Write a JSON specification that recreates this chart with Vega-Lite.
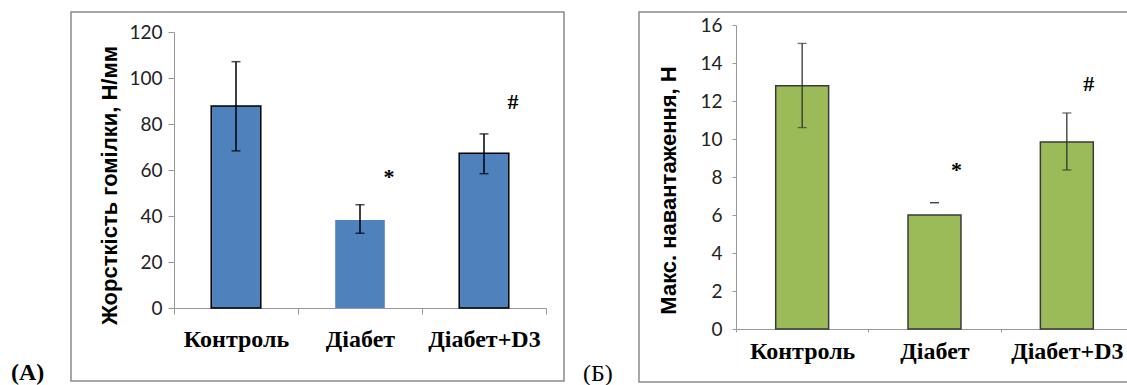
{
  "$schema": "https://vega.github.io/schema/vega-lite/v6.json",
  "autosize": {"type": "pad"},
  "padding": {"left": 10, "top": 11, "right": -3, "bottom": 0},
  "background": "white",
  "bounds": "flush",
  "spacing": 75,
  "config": {
    "view": {"stroke": "#8a8a8a", "strokeWidth": 1.5},
    "axis": {"grid": false},
    "axisX": {"labelFont": "Liberation Serif"}
  },
  "datasets": {
    "a": [
      {"group": "Контроль", "mean": 87.8, "lo": 68.3, "hi": 107.1, "sig": "", "sig_y": null},
      {"group": "Діабет", "mean": 38.3, "lo": 32.5, "hi": 44.9, "sig": "*", "sig_y": 53.7},
      {"group": "Діабет+D3", "mean": 67.3, "lo": 58.4, "hi": 75.7, "sig": "#", "sig_y": 86.7}
    ],
    "b": [
      {"group": "Контроль", "mean": 12.8, "lo": 10.6, "hi": 15.03, "sig": "", "sig_y": null},
      {"group": "Діабет", "mean": 6.0, "lo": 6.65, "hi": 6.65, "sig": "*", "sig_y": 8.0},
      {"group": "Діабет+D3", "mean": 9.84, "lo": 8.37, "hi": 11.37, "sig": "#", "sig_y": 12.54}
    ]
  },
  "hconcat": [
    {
      "width": 493,
      "height": 369,
      "title": {"text": "(A)", "orient": "bottom", "anchor": "start", "font": "Liberation Serif", "fontWeight": "bold", "fontSize": 24, "color": "black", "dx": -60, "offset": -20},
      "data": {"name": "a"},
      "encoding": {
        "x": {
          "field": "group", "type": "nominal", "sort": null,
          "scale": {"range": [103, 475], "paddingInner": 0, "paddingOuter": 0},
          "axis": {
            "title": null, "orient": "bottom", "offset": -73, "labelAngle": 0,
            "tickBand": "extent", "tickSize": 6, "tickColor": "#999", "domainColor": "#999",
            "labelFont": "Liberation Serif", "labelFontWeight": "bold", "labelFontSize": 24, "labelColor": "black", "labelPadding": 13
          }
        }
      },
      "layer": [
        {
          "mark": {"type": "bar", "width": {"band": 0.4}, "color": "#4F81BD", "strokeWidth": 1.5},
          "encoding": {
            "y": {
              "field": "mean", "type": "quantitative",
              "scale": {"domain": [0, 120], "range": [296, 20], "nice": false, "zero": true},
              "axis": {
                "title": "Жорсткість гомілки, Н/мм", "offset": -103, "values": [0, 20, 40, 60, 80, 100, 120],
                "tickSize": 6, "tickColor": "#999", "domainColor": "#999",
                "labelFont": "Lato", "labelFontSize": 19, "labelColor": "#222", "labelPadding": 6,
                "titleFont": "Liberation Sans", "titleFontWeight": "bold", "titleFontSize": 22, "titleColor": "black",
                "titlePadding": 7, "titleY": 173
              }
            },
            "stroke": {"condition": {"test": "datum.group === 'Діабет'", "value": null}, "value": "black"}
          }
        },
        {
          "mark": {"type": "rule", "color": "black", "strokeWidth": 1.5},
          "encoding": {"y": {"field": "lo", "type": "quantitative"}, "y2": {"field": "hi"}}
        },
        {
          "mark": {"type": "tick", "orient": "horizontal", "size": 9, "thickness": 1.5, "color": "black"},
          "encoding": {"y": {"field": "hi", "type": "quantitative"}}
        },
        {
          "mark": {"type": "tick", "orient": "horizontal", "size": 9, "thickness": 1.5, "color": "black"},
          "encoding": {"y": {"field": "lo", "type": "quantitative"}}
        },
        {
          "transform": [{"filter": "datum.sig !== ''"}],
          "mark": {"type": "text", "font": "Liberation Serif", "fontWeight": "bold", "fontSize": 22, "color": "black", "baseline": "alphabetic", "align": "center", "dx": 29},
          "encoding": {"y": {"field": "sig_y", "type": "quantitative"}, "text": {"field": "sig"}}
        }
      ]
    },
    {
      "width": 492,
      "height": 370,
      "title": {"text": "(Б)", "orient": "bottom", "anchor": "start", "font": "Liberation Serif", "fontWeight": "normal", "fontSize": 24, "color": "black", "dx": -56, "offset": -20},
      "data": {"name": "b"},
      "encoding": {
        "x": {
          "field": "group", "type": "nominal", "sort": null,
          "scale": {"range": [97, 494], "paddingInner": 0, "paddingOuter": 0},
          "axis": {
            "title": null, "orient": "bottom", "offset": -53, "labelAngle": 0,
            "tickBand": "extent", "tickSize": 3, "tickColor": "#999", "domainColor": "#999",
            "labelFont": "Liberation Serif", "labelFontWeight": "bold", "labelFontSize": 24, "labelColor": "black", "labelPadding": 7
          }
        }
      },
      "layer": [
        {
          "mark": {"type": "bar", "width": {"band": 0.4}, "color": "#9BBB59", "stroke": "#3a3a3a", "strokeWidth": 1.5},
          "encoding": {
            "y": {
              "field": "mean", "type": "quantitative",
              "scale": {"domain": [0, 16], "range": [317, 13], "nice": false, "zero": true},
              "axis": {
                "title": "Макс. навантаження, Н", "offset": -97, "values": [0, 2, 4, 6, 8, 10, 12, 14, 16],
                "tickSize": 4, "tickColor": "#999", "domainColor": "#999",
                "labelFont": "Lato", "labelFontSize": 19, "labelColor": "#222", "labelPadding": 10,
                "titleFont": "Liberation Sans", "titleFontWeight": "bold", "titleFontSize": 22, "titleColor": "black",
                "titlePadding": 19, "titleY": 178
              }
            }
          }
        },
        {
          "mark": {"type": "rule", "color": "#333", "strokeWidth": 1.3},
          "encoding": {"y": {"field": "lo", "type": "quantitative"}, "y2": {"field": "hi"}}
        },
        {
          "mark": {"type": "tick", "orient": "horizontal", "size": 9, "thickness": 1.3, "color": "#333"},
          "encoding": {"y": {"field": "hi", "type": "quantitative"}}
        },
        {
          "mark": {"type": "tick", "orient": "horizontal", "size": 9, "thickness": 1.3, "color": "#333"},
          "encoding": {"y": {"field": "lo", "type": "quantitative"}}
        },
        {
          "transform": [{"filter": "datum.sig !== ''"}],
          "mark": {"type": "text", "font": "Liberation Serif", "fontWeight": "bold", "fontSize": 22, "color": "black", "baseline": "alphabetic", "align": "center", "dx": 22},
          "encoding": {"y": {"field": "sig_y", "type": "quantitative"}, "text": {"field": "sig"}}
        }
      ]
    }
  ]
}
